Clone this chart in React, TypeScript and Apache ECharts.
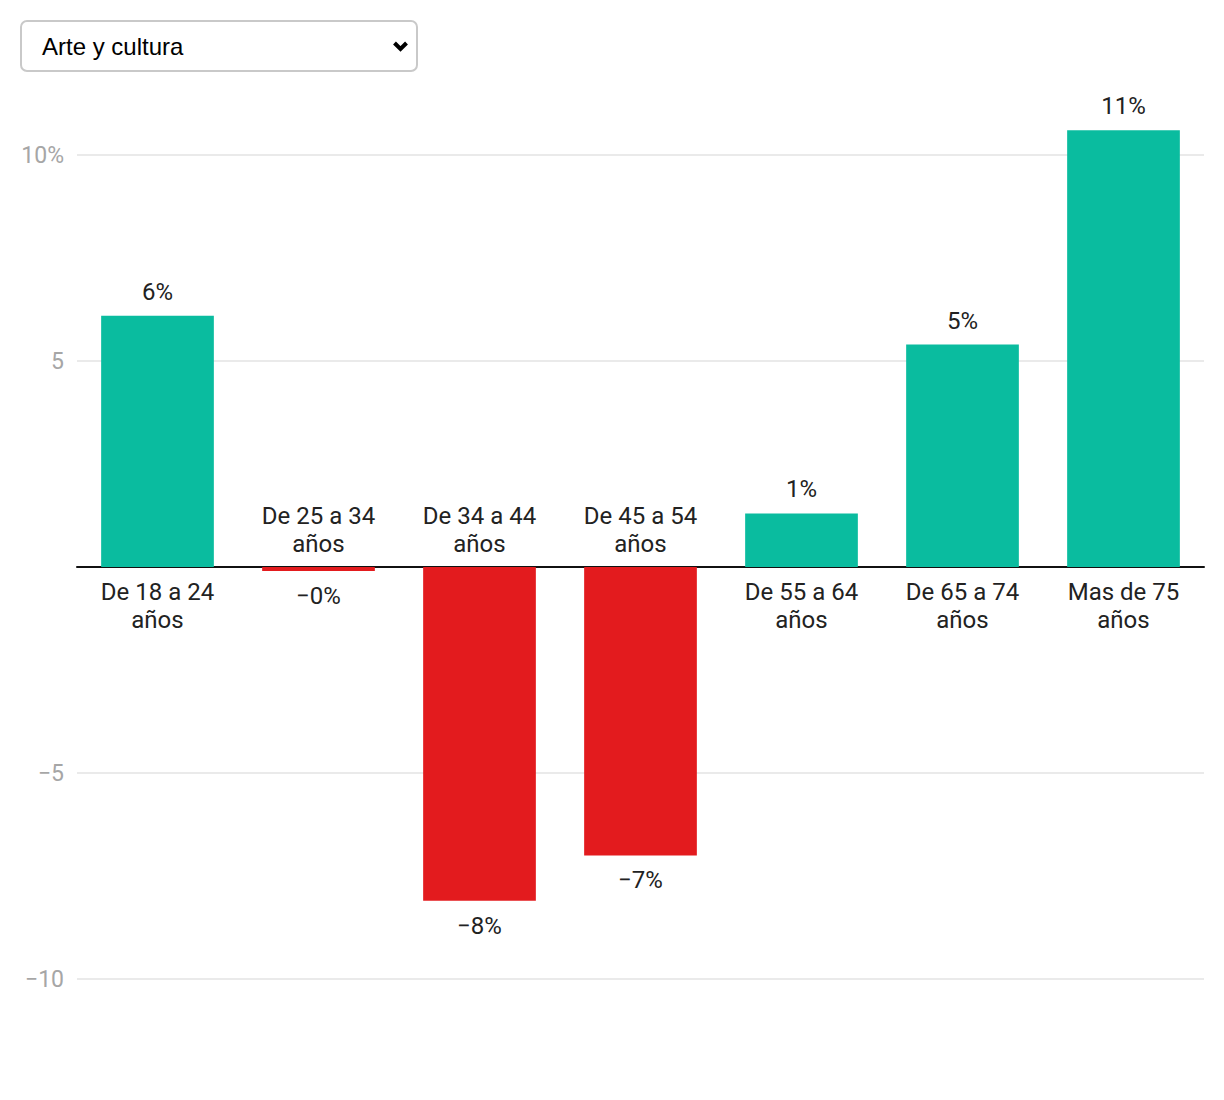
import React, { useEffect, useRef } from "react";
import * as echarts from "echarts";

const categories = [
  "De 18 a 24\naños",
  "De 25 a 34\naños",
  "De 34 a 44\naños",
  "De 45 a 54\naños",
  "De 55 a 64\naños",
  "De 65 a 74\naños",
  "Mas de 75\naños",
];
const values = [6.1, -0.1, -8.1, -7.0, 1.3, 5.4, 10.6];
const yTicks = [-10, -5, 0, 5, 10];
const dropdownLabel = "Arte y cultura";

const GREEN = "#0abc9f";
const RED = "#e31b1e";
const FONT = "Roboto";

function fmtValue(v: number): string {
  const r = Math.abs(Math.round(v));
  return (v < 0 ? "\u2212" : "") + r + "%";
}

function fmtTick(v: number): string {
  if (v === 0) return "";
  if (v === yTicks[yTicks.length - 1]) return v + "%";
  return (v < 0 ? "\u2212" : "") + Math.abs(v);
}

export default function App() {
  const ref = useRef<HTMLDivElement>(null);
  useEffect(() => {
    document.body.style.margin = "0";
    if (!ref.current) return;
    const chart = echarts.init(ref.current, null, { renderer: "svg" });
    const mainData = values.map((v) => ({
      value: v,
      itemStyle: { color: v >= 0 ? GREEN : RED },
      label: { position: v >= 0 ? "top" : "bottom", distance: v >= 0 ? 12 : 13 },
    }));
    const catData = values.map((v, i) => ({
      value: v,
      label: {
        position: v >= 0 ? "bottom" : "top",
        distance: v >= 0 ? 11 : 9,
        formatter: () => categories[i],
      },
    }));
    chart.setOption({
      animation: false,
      textStyle: { fontFamily: FONT },
      grid: { left: 77, right: 20, top: 155, bottom: 121, containLabel: false },
      xAxis: {
        type: "category",
        data: categories,
        axisLine: { onZero: true, lineStyle: { color: "#111", width: 2 } },
        axisTick: { show: false },
        axisLabel: { show: false },
        splitLine: { show: false },
      },
      yAxis: {
        type: "value",
        min: yTicks[0],
        max: yTicks[yTicks.length - 1],
        interval: 5,
        axisLine: { show: false },
        axisTick: { show: false },
        axisLabel: {
          formatter: fmtTick,
          color: "#a6a6a6",
          fontSize: 23,
          fontFamily: FONT,
          margin: 13,
        },
        splitLine: { lineStyle: { color: "#e3e3e3", width: 1.5 } },
      },
      series: [
        {
          type: "bar",
          data: mainData,
          barCategoryGap: "30%",
          barGap: "-100%",
          clip: false,
          label: {
            show: true,
            fontSize: 24,
            lineHeight: 24,
            fontFamily: FONT,
            color: "#222",
            formatter: (p: any) => fmtValue(p.value),
          },
        },
        {
          type: "bar",
          data: catData,
          barCategoryGap: "30%",
          barGap: "-100%",
          clip: false,
          itemStyle: { color: "rgba(0,0,0,0)" },
          label: {
            show: true,
            fontSize: 24,
            lineHeight: 28,
            fontFamily: FONT,
            color: "#222",
            align: "center",
          },
          z: 3,
        },
      ],
      graphic: [
        {
          type: "rect",
          shape: { x: 21, y: 21, width: 396, height: 50, r: 6 },
          style: { fill: "#fff", stroke: "#c9c9c9", lineWidth: 2 },
        },
        {
          type: "text",
          x: 42,
          y: 46,
          style: {
            text: dropdownLabel,
            font: '24px "Liberation Sans", Arial, sans-serif',
            fill: "#000",
            verticalAlign: "middle",
          },
        },
        {
          type: "polyline",
          shape: { points: [[394.5, 43], [400.5, 49], [406.5, 43]] },
          style: { stroke: "#000", lineWidth: 4, fill: "none" },
        },
      ],
    });
    return () => chart.dispose();
  }, []);
  return <div ref={ref} style={{ width: 1224, height: 1100 }} />;
}
